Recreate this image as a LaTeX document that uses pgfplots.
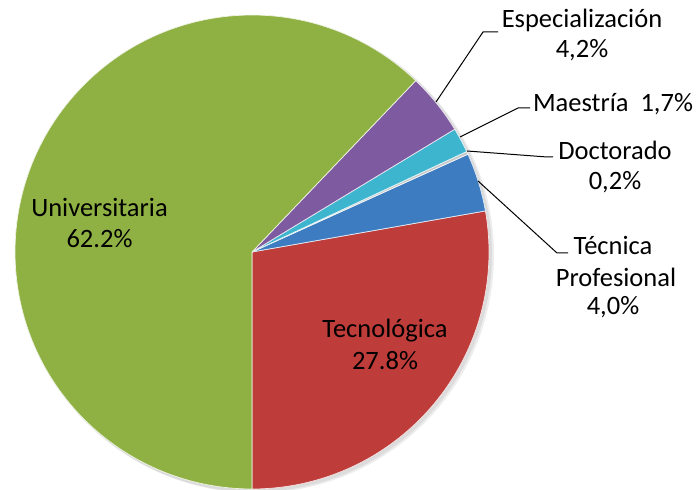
\documentclass[border=0pt]{standalone}
\usepackage{pgfplots}
\pgfplotsset{compat=1.18}
\usepackage{pgfplotstable}
\usepackage{fontspec}
\setmainfont{Carlito}

\definecolor{uniG}{HTML}{8FB143}
\definecolor{tecR}{HTML}{BE3C39}
\definecolor{tecB}{HTML}{3E7CC2}
\definecolor{docG}{HTML}{C8C8C8}
\definecolor{maeC}{HTML}{3DB5CF}
\definecolor{espP}{HTML}{7E5BA0}

% slice values (%), counter-clockwise from 6 o'clock
\pgfplotstableread{
value col
27.8 tecR
4.0 tecB
0.2 docG
1.7 maeC
4.2 espP
62.2 uniG
}\piedata

\begin{document}
\begin{tikzpicture}[font=\fontsize{26.5bp}{31bp}\selectfont, every node/.style={inner sep=0pt}]
\begin{axis}[
  width=697bp, height=490bp, scale only axis,
  xmin=0, xmax=697, ymin=0, ymax=490,
  hide axis, clip=false,
]
% soft shadow
\fill[black, opacity=0.07] (axis cs:256,235) circle[radius=238bp];
\fill[black, opacity=0.07] (axis cs:254,236) circle[radius=238bp];

\pgfplotstablegetrowsof{\piedata}
\pgfmathtruncatemacro\nrows{\pgfplotsretval-1}
\xdef\angA{-90}
\foreach \i in {0,...,\nrows}{
  \pgfplotstablegetelem{\i}{value}\of\piedata \let\sliceval\pgfplotsretval
  \pgfplotstablegetelem{\i}{col}\of\piedata \let\slicecol\pgfplotsretval
  \pgfmathsetmacro\angB{\angA+3.5964*\sliceval}
  \edef\tmp{\noexpand\fill[\slicecol, draw=white!85!\slicecol, line width=0.7bp]
    (axis cs:252,238) -- ++(\angA:237bp) arc[start angle=\angA, end angle=\angB, radius=237bp] -- cycle;}
  \tmp
  \xdef\angA{\angB}
}

% leader lines
\draw[line width=1bp] (axis cs:436,388) -- (axis cs:483,458) -- (axis cs:498,458);
\draw[line width=1bp] (axis cs:460,353) -- (axis cs:518,382) -- (axis cs:530,382);
\draw[line width=1bp] (axis cs:467,339) -- (axis cs:547,333) -- (axis cs:553,333);
\draw[line width=1bp] (axis cs:478,309) -- (axis cs:557,237) -- (axis cs:568,237);

% labels
\node[anchor=base] at (axis cs:582,462) {Especialización};
\node[anchor=base] at (axis cs:582,432) {4,2\%};
\node[anchor=base] at (axis cs:613,378) {Maestría\ \ 1,7\%};
\node[anchor=base] at (axis cs:615,330) {Doctorado};
\node[anchor=base] at (axis cs:615,300) {0,2\%};
\node[anchor=base] at (axis cs:613,235) {Técnica};
\node[anchor=base] at (axis cs:616,203) {Profesional};
\node[anchor=base] at (axis cs:613,175) {4,0\%};
\node[anchor=base] at (axis cs:99.5,273) {Universitaria};
\node[anchor=base] at (axis cs:99.5,242) {62.2\%};
\node[anchor=base] at (axis cs:385,152) {Tecnológica};
\node[anchor=base] at (axis cs:385,120) {27.8\%};
\end{axis}
\pgfresetboundingbox
\path[use as bounding box] (current axis.south west) rectangle (current axis.north east);
\end{tikzpicture}
\end{document}
